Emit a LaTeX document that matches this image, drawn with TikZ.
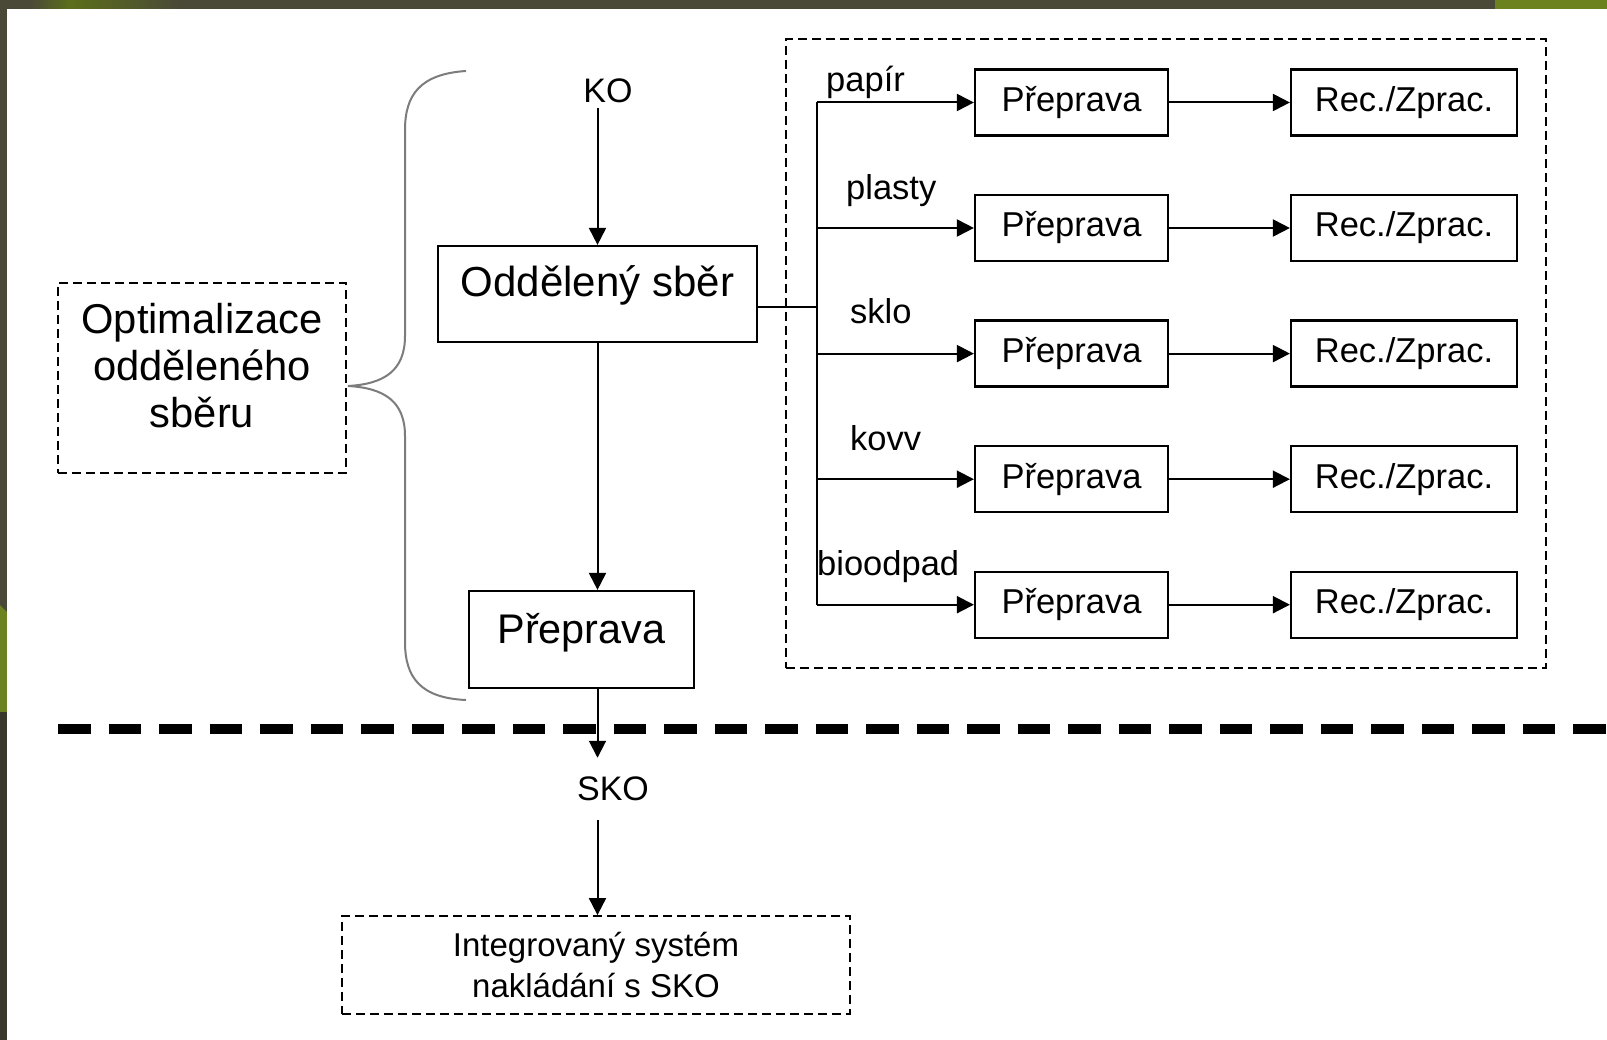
\documentclass[tikz,border=0pt]{standalone}
\usepackage{fontspec}
\setmainfont{Liberation Sans}
\usetikzlibrary{arrows.meta}
\usetikzlibrary{positioning}
\definecolor{frameolive}{HTML}{4A4937}
\definecolor{framedark}{HTML}{3A372B}
\definecolor{framegreen}{HTML}{6B821F}
\definecolor{bracegray}{HTML}{7C7C7C}
\tikzset{
    box/.style={
           rectangle,
           draw=black, line width=2.2pt,
           inner sep=0pt,
           text centered,
           },
}
\tikzset{
    dbox/.style={
           rectangle,
           draw=black, line width=1.8pt,
           dash pattern=on 9pt off 5pt,
           inner sep=0pt,
           },
}
\tikzset{
    stage/.style={
           box,
           minimum height=66pt,
           font=\fontsize{34.5}{41}\selectfont,
           },
}
\tikzset{
    lbl/.style={
           inner sep=0pt,
           anchor=base west,
           font=\fontsize{34.5}{41}\selectfont,
           },
}
\tikzset{
    flow/.style={
           draw=black, line width=2pt,
           -{Triangle[length=17pt,width=17pt]},
           },
    wire/.style={
           draw=black, line width=2pt,
           },
}

\begin{document}
\begin{tikzpicture}[x=1pt,y=-1pt]
\useasboundingbox (0,0) rectangle (1607,1040);
% frame
\fill[frameolive] (0,0) rectangle (1607,1040);
\shade[left color=frameolive,right color=framegreen!85!black] (30,0) rectangle (70,9);
\shade[left color=framegreen!85!black,right color=frameolive] (70,0) rectangle (180,9);
\fill[framegreen] (1495,0) rectangle (1607,9);
\fill[framegreen] (0,605) -- (7,612) -- (7,712) -- (0,712) -- cycle;
\fill[framedark] (0,712) rectangle (7,1040);
\fill[white] (7,9) rectangle (1607,1040);

% left column
\node[dbox,minimum width=288pt,minimum height=190pt](opt) at (202,378){};
\node[align=center,inner sep=0pt,font=\fontsize{41.7}{47}\selectfont](optt) at (202,366){Optimalizace\\odděleného\\sběru};
\draw[bracegray,line width=2pt] (466,71) .. controls (420,74) and (405,95) .. (405,130)
  -- (405,336) .. controls (405,370) and (385,384) .. (348,386)
  .. controls (385,388) and (405,402) .. (405,436)
  -- (405,642) .. controls (405,677) and (420,698) .. (466,700);

\node[inner sep=4.5pt,font=\fontsize{34}{40}\selectfont](ko) at (608,91){KO};
\node[box,minimum width=319pt,text height=51pt,text depth=45pt,font=\fontsize{42}{48}\selectfont](sber) at (597.5,294){Oddělený sběr};
\node[box,minimum width=225pt,text height=52pt,text depth=45pt,font=\fontsize{41.4}{48}\selectfont](prep) at (581.5,639.5){Přeprava};
\node[inner sep=19pt,font=\fontsize{34}{40}\selectfont](sko) at (613,789){SKO};
\node[dbox,minimum width=508pt,minimum height=98pt,align=center,font=\fontsize{33}{41}\selectfont](isys) at (596,965){Integrovaný systém\\nakládání s SKO};

\draw[flow] (ko.south -| sber.north) -- (sber.north);
\draw[flow] (sber.south) -- (sber.south |- prep.north);
\draw[flow] (prep.south -| sber.south) -- (sko.north -| sber.south);
\draw[flow] (sko.south -| sber.south) -- (isys.north -| sber.south);

% divider
\coordinate (divL) at (58,729);
\coordinate (divR) at (1607,729);
\draw[line width=10pt,dash pattern=on 32.5pt off 18pt] (divL) -- (divR);

% separated streams
\node[dbox,minimum width=760pt,minimum height=629pt](sep) at (1166,353.5){};
\node[stage,minimum width=193pt](p1) at (1071.5,102.5){Přeprava};
\node[stage,minimum width=193pt](p2) at (1071.5,228){Přeprava};
\node[stage,minimum width=193pt](p3) at (1071.5,353.6){Přeprava};
\node[stage,minimum width=193pt](p4) at (1071.5,479.2){Přeprava};
\node[stage,minimum width=193pt](p5) at (1071.5,604.7){Přeprava};
\node[stage,minimum width=226pt](z1) at (1404,102.5){Rec./Zprac.};
\node[stage,minimum width=226pt](z2) at (1404,228){Rec./Zprac.};
\node[stage,minimum width=226pt](z3) at (1404,353.6){Rec./Zprac.};
\node[stage,minimum width=226pt](z4) at (1404,479.2){Rec./Zprac.};
\node[stage,minimum width=226pt](z5) at (1404,604.7){Rec./Zprac.};
\node[lbl](l1) at (826,92){papír};
\node[lbl](l2) at (846,200){plasty};
\node[lbl](l3) at (850,324){sklo};
\node[lbl](l4) at (850,450){kovv};
\node[lbl](l5) at (817,575){bioodpad};

\coordinate (bus) at (817,307);
\draw[wire] (sber.east |- bus) -- (bus);
\draw[wire] (bus |- p1) -- (bus |- p5);
\draw[flow] (bus |- p1) -- (p1);
\draw[flow] (bus |- p2) -- (p2);
\draw[flow] (bus |- p3) -- (p3);
\draw[flow] (bus |- p4) -- (p4);
\draw[flow] (bus |- p5) -- (p5);
\draw[flow] (p1) -- (z1);
\draw[flow] (p2) -- (z2);
\draw[flow] (p3) -- (z3);
\draw[flow] (p4) -- (z4);
\draw[flow] (p5) -- (z5);
\end{tikzpicture}
\end{document}
